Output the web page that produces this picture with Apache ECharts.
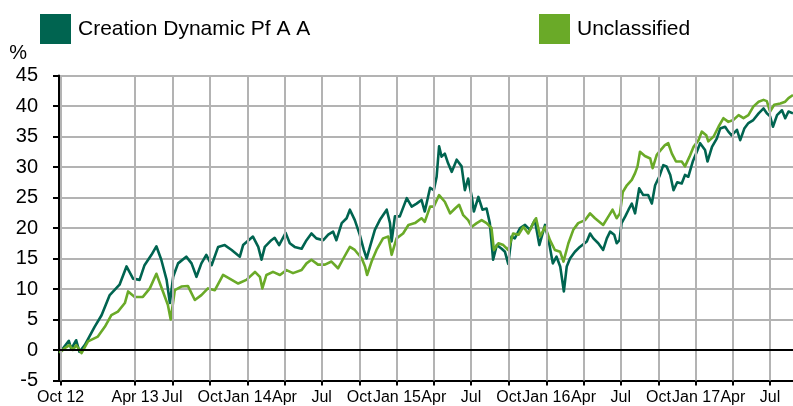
<!DOCTYPE html>
<html><head><meta charset="utf-8">
<script src="https://cdn.jsdelivr.net/npm/echarts@6/dist/echarts.min.js"></script>
<style>html,body{margin:0;padding:0;background:#fff}#c{width:793px;height:406px}</style>
</head><body><div id="c"></div>
<script>
const creationDates = ['2012-09-28','2012-10-07','2012-10-21','2012-10-27','2012-11-08','2012-11-16','2012-11-29','2012-12-23','2013-01-09','2013-01-29','2013-02-22','2013-03-11','2013-03-27','2013-04-12','2013-04-24','2013-05-11','2013-05-23','2013-06-04','2013-06-17','2013-06-25','2013-07-03','2013-07-15','2013-08-04','2013-08-17','2013-08-29','2013-09-10','2013-09-22','2013-10-05','2013-10-21','2013-11-06','2013-11-23','2013-12-13','2013-12-21','2014-01-14','2014-01-27','2014-02-04','2014-02-12','2014-02-28','2014-03-08','2014-03-19','2014-04-04','2014-04-14','2014-04-26','2014-05-13','2014-05-25','2014-06-06','2014-06-18','2014-07-05','2014-07-17','2014-07-29','2014-08-06','2014-08-19','2014-08-31','2014-09-08','2014-09-20','2014-10-02','2014-10-12','2014-10-19','2014-10-27','2014-11-08','2014-11-20','2014-12-07','2014-12-15','2014-12-19','2014-12-27','2015-01-08','2015-01-25','2015-02-06','2015-02-18','2015-03-02','2015-03-10','2015-03-23','2015-04-01','2015-04-08','2015-04-14','2015-04-20','2015-04-28','2015-05-06','2015-05-15','2015-05-27','2015-06-08','2015-06-16','2015-06-24','2015-07-03','2015-07-08','2015-07-19','2015-07-29','2015-08-08','2015-08-16','2015-08-24','2015-09-02','2015-09-14','2015-09-22','2015-09-30','2015-10-08','2015-10-16','2015-10-29','2015-11-10','2015-11-22','2015-12-04','2015-12-15','2015-12-29','2016-01-08','2016-01-17','2016-01-26','2016-02-04','2016-02-13','2016-02-20','2016-02-28','2016-03-11','2016-03-23','2016-04-09','2016-04-17','2016-04-25','2016-05-07','2016-05-19','2016-05-28','2016-06-05','2016-06-15','2016-06-21','2016-06-28','2016-07-03','2016-07-12','2016-07-20','2016-07-28','2016-08-05','2016-08-15','2016-08-25','2016-09-06','2016-09-15','2016-09-23','2016-10-03','2016-10-13','2016-10-21','2016-10-30','2016-11-07','2016-11-16','2016-11-27','2016-12-05','2016-12-13','2016-12-24','2017-01-03','2017-01-11','2017-01-23','2017-01-29','2017-02-09','2017-02-21','2017-03-01','2017-03-13','2017-03-21','2017-03-29','2017-04-11','2017-04-19','2017-04-29','2017-05-09','2017-05-21','2017-06-03','2017-06-15','2017-06-23','2017-07-01','2017-07-08','2017-07-18','2017-07-30','2017-08-07','2017-08-15','2017-08-26'];
const creationValues = [-0.5,0.3,1.5,0.2,1.6,-0.3,0.8,3.8,5.7,9.0,10.7,13.7,11.7,11.5,13.9,15.6,17.0,14.8,11.5,7.7,12.0,14.2,15.3,14.2,12.0,14.2,15.6,13.9,16.9,17.2,16.4,15.3,17.2,18.6,16.9,14.8,16.9,18.0,18.4,17.2,19.2,17.5,16.9,16.6,18.0,19.1,18.3,18.0,18.9,19.4,18.0,20.8,21.6,23.0,21.3,18.9,16.4,15.0,16.9,19.7,21.3,23.0,20.8,17.8,21.9,21.9,24.9,23.5,24.0,24.6,22.7,26.6,26.2,28.4,33.4,31.7,32.2,30.6,29.2,31.2,30.1,26.2,28.1,25.1,22.7,25.1,23.0,23.2,20.8,14.8,17.2,16.6,16.1,14.1,18.6,18.3,20.0,20.5,19.7,21.3,17.2,20.5,17.5,14.2,15.3,13.7,9.6,13.7,15.0,16.1,16.9,17.8,19.1,18.3,17.5,16.4,18.3,19.4,18.9,17.5,18.0,20.8,21.9,23.0,24.0,22.4,26.5,25.4,25.4,24.0,27.0,28.4,30.3,30.1,28.7,26.2,27.5,27.3,28.7,28.4,30.9,32.5,33.9,32.8,30.9,33.3,34.7,36.3,36.6,35.8,35.2,36.1,34.4,36.3,37.2,37.7,38.8,39.6,38.8,38.3,36.6,38.5,39.3,38.0,39.1,38.8];
const unclassifiedDates = ['2012-09-28','2012-10-11','2012-10-23','2012-10-31','2012-11-08','2012-11-21','2012-12-07','2012-12-31','2013-01-17','2013-02-02','2013-02-18','2013-03-07','2013-03-15','2013-03-31','2013-04-20','2013-05-07','2013-05-23','2013-06-08','2013-06-20','2013-06-27','2013-07-07','2013-07-23','2013-08-08','2013-08-25','2013-09-10','2013-09-26','2013-10-13','2013-11-02','2013-11-18','2013-12-09','2013-12-29','2014-01-19','2014-01-31','2014-02-06','2014-02-16','2014-03-04','2014-03-21','2014-04-06','2014-04-22','2014-05-13','2014-05-25','2014-06-06','2014-06-22','2014-07-09','2014-07-25','2014-08-10','2014-08-23','2014-09-08','2014-09-20','2014-10-07','2014-10-15','2014-10-20','2014-10-31','2014-11-12','2014-11-28','2014-12-11','2014-12-19','2014-12-31','2015-01-16','2015-01-29','2015-02-14','2015-03-02','2015-03-10','2015-03-23','2015-04-01','2015-04-14','2015-04-28','2015-05-11','2015-05-23','2015-06-02','2015-06-12','2015-06-24','2015-07-03','2015-07-15','2015-07-27','2015-08-08','2015-08-20','2015-08-26','2015-09-06','2015-09-18','2015-09-30','2015-10-12','2015-10-25','2015-11-06','2015-11-18','2015-11-30','2015-12-07','2015-12-17','2015-12-29','2016-01-10','2016-01-22','2016-02-04','2016-02-12','2016-02-24','2016-03-07','2016-03-19','2016-04-05','2016-04-17','2016-04-29','2016-05-19','2016-06-01','2016-06-11','2016-06-21','2016-06-29','2016-07-06','2016-07-16','2016-07-28','2016-08-05','2016-08-11','2016-08-17','2016-08-29','2016-09-11','2016-09-17','2016-09-27','2016-10-07','2016-10-17','2016-10-25','2016-11-03','2016-11-13','2016-11-27','2016-12-05','2016-12-16','2016-12-26','2017-01-07','2017-01-15','2017-01-26','2017-01-31','2017-02-13','2017-02-25','2017-03-09','2017-03-21','2017-04-02','2017-04-15','2017-04-27','2017-05-09','2017-05-21','2017-06-03','2017-06-15','2017-06-23','2017-07-01','2017-07-11','2017-07-26','2017-08-07','2017-08-15','2017-08-26'];
const unclassifiedValues = [-0.5,0.3,0.8,0.0,0.8,-0.5,1.4,2.2,3.8,5.7,6.3,7.7,9.6,8.7,8.7,10.1,12.5,9.6,7.4,5.0,9.8,10.4,10.5,8.2,9.0,10.1,9.8,12.3,11.7,10.9,11.5,12.8,12.0,10.1,12.3,12.8,12.3,13.1,12.6,13.1,14.2,14.8,14.0,14.0,14.5,13.4,15.0,16.9,16.4,15.0,13.7,12.3,14.5,16.4,18.3,18.6,15.6,18.3,19.1,20.5,20.8,21.6,21.0,23.5,23.5,25.4,24.3,22.4,23.2,23.8,22.1,21.3,20.2,20.8,21.3,20.8,20.0,16.4,17.5,17.2,16.4,19.1,18.9,20.2,19.1,20.8,21.6,18.6,20.2,18.0,16.4,16.1,14.5,17.5,19.7,20.8,21.3,22.4,21.6,20.5,21.9,23.0,21.6,22.4,25.9,27.0,27.9,29.0,30.1,32.5,31.8,31.4,29.8,32.0,32.8,33.6,33.9,32.2,30.9,30.9,30.1,31.7,33.3,34.4,35.8,35.2,34.2,35.0,36.6,38.0,37.4,37.7,38.5,38.0,38.5,39.9,40.7,41.0,40.8,39.1,40.2,40.4,40.7,41.3,41.8];
const tickDates = ['2012-10-01','2013-04-01','2013-07-01','2013-10-01','2014-01-01','2014-04-01','2014-07-01','2014-10-01','2015-01-01','2015-04-01','2015-07-01','2015-10-01','2016-01-01','2016-04-01','2016-07-01','2016-10-01','2017-01-01','2017-04-01','2017-07-01'];
const tickLabels = ['Oct 12','Apr 13','Jul','Oct','Jan 14','Apr','Jul','Oct','Jan 15','Apr','Jul','Oct','Jan 16','Apr','Jul','Oct','Jan 17','Apr','Jul'];
const seriesNames = ['Creation Dynamic Pf A A','Unclassified'];
const seriesColors = ['#006450','#6aaa28'];

function ts(s){const p=s.split('-');return new Date(+p[0],+p[1]-1,+p[2]).getTime();}
const tickValues = tickDates.map(ts);
const labelOf = {};
tickValues.forEach((v,i)=>{labelOf[v]=tickLabels[i];});
const FONT = '"Liberation Sans", Arial, sans-serif';
const GRID_GREY = '#b3b3b3';

const chart = echarts.init(document.getElementById('c'), null, {renderer:'canvas'});
chart.setOption({
  animation:false,
  textStyle:{fontFamily:FONT},
  legend:[
    {data:[seriesNames[0]], left:40, top:14, padding:0, icon:'rect', itemWidth:31, itemHeight:30,
     selectedMode:false, textStyle:{fontFamily:FONT, fontSize:21, color:'#000', padding:[0,0,0,2]}},
    {data:[seriesNames[1]], left:539, top:14, padding:0, icon:'rect', itemWidth:31, itemHeight:30,
     selectedMode:false, textStyle:{fontFamily:FONT, fontSize:21, color:'#000', padding:[0,0,0,2]}}
  ],
  grid:{left:59, right:0, top:75.5, bottom:25.5},
  xAxis:{
    type:'value', min:ts('2012-09-27'), max:ts('2017-08-26'), scale:true,
    splitLine:{show:false},
    axisLine:{onZero:false, lineStyle:{color:'#000', width:2}},
    axisTick:{show:true, customValues:tickValues, length:5, lineStyle:{color:'#000', width:2}},
    axisLabel:{customValues:tickValues, formatter:(v)=>labelOf[v]||'', fontFamily:FONT, fontSize:16, color:'#000', margin:9, hideOverlap:false}
  },
  yAxis:{
    type:'value', min:-5, max:45, interval:5,
    name:'%', nameLocation:'end', nameGap:12,
    nameTextStyle:{fontFamily:FONT, fontSize:20, color:'#000', align:'right', padding:[0,32,0,0]},
    axisLine:{show:true, onZero:false, lineStyle:{color:'#000', width:2}},
    axisTick:{show:true, length:6, lineStyle:{color:'#000', width:2}},
    axisLabel:{fontFamily:FONT, fontSize:20, color:'#000', margin:21},
    splitLine:{show:true, lineStyle:{color:GRID_GREY, width:2}}
  },
  series:[
    {type:'line', name:'grid', data:[], silent:true, z:1,
     markLine:{silent:true, symbol:'none', animation:false, label:{show:false},
       lineStyle:{color:GRID_GREY, width:2, type:'solid'},
       data:tickValues.map(v=>({xAxis:v}))}},
    {type:'line', name:'zero', data:[], silent:true, z:2,
     markLine:{silent:true, symbol:'none', animation:false, label:{show:false},
       lineStyle:{color:'#000', width:2, type:'solid'},
       data:[{yAxis:0}]}},
    {name:seriesNames[0], type:'line', z:3, showSymbol:false, symbol:'none',
     data:creationDates.map((d,i)=>[ts(d), creationValues[i]]),
     lineStyle:{color:seriesColors[0], width:2.6, join:'round'}, itemStyle:{color:seriesColors[0]}},
    {name:seriesNames[1], type:'line', z:4, showSymbol:false, symbol:'none',
     data:unclassifiedDates.map((d,i)=>[ts(d), unclassifiedValues[i]]),
     lineStyle:{color:seriesColors[1], width:2.6, join:'round'}, itemStyle:{color:seriesColors[1]}}
  ]
});
</script>
</body></html>
